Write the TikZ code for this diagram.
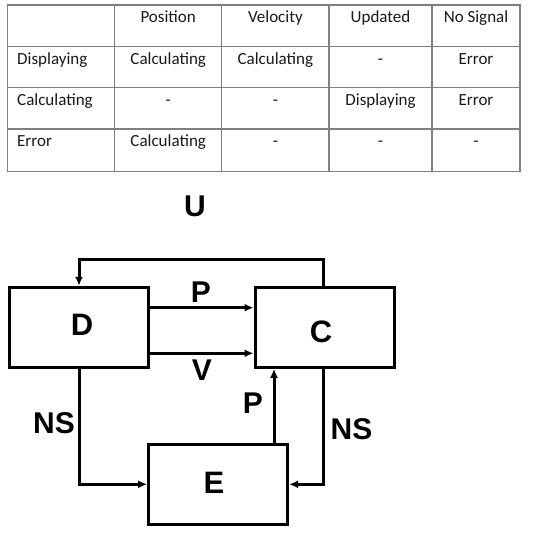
\documentclass[tikz,border=0pt]{standalone}
\usepackage{fontspec}
\setmainfont{Liberation Sans}
\newfontfamily\tabfont{Carlito}
\usetikzlibrary{arrows.meta}
\begin{document}
\begin{tikzpicture}[x=1pt,y=-1pt,
  grid/.style={draw=black!50,line width=1.2pt},
  cell/.style={font=\tabfont\fontsize{17}{19}\selectfont,text=black!90,inner sep=0pt,anchor=base},
  lcell/.style={cell,anchor=base west},
  box/.style={draw,line width=3pt,minimum width=139pt,minimum height=80pt,inner sep=0pt,font=\bfseries\fontsize{31}{34}\selectfont},
  lbl/.style={font=\bfseries\fontsize{30}{32}\selectfont,inner sep=0pt},
  conn/.style={line width=3pt,-{Latex[length=9pt,width=8pt]}}]
\useasboundingbox (0,0) rectangle (533,533);
% table
\draw[grid] (7.5,5) rectangle (520,171.7);
\foreach \y in {46.7,87.7,129} \draw[grid] (7.5,\y) -- (520,\y);
\foreach \x in {114.6,221.8,329,432} \draw[grid] (\x,5) -- (\x,171.7);
% header
\node[cell] (h1) at (168.2,22.7) {Position};
\node[cell] (h2) at (275.4,22.7) {Velocity};
\node[cell] (h3) at (380.5,22.7) {Updated};
\node[cell] (h4) at (476,22.7) {No Signal};
% row 1
\node[lcell] (r1) at (17,64.4) {Displaying};
\node[cell] (r1a) at (168.2,64.4) {Calculating};
\node[cell] (r1b) at (275.4,64.4) {Calculating};
\node[cell] (r1c) at (380.5,64.4) {-};
\node[cell] (r1d) at (476,64.4) {Error};
% row 2
\node[lcell] (r2) at (17,105.4) {Calculating};
\node[cell] (r2a) at (168.2,105.4) {-};
\node[cell] (r2b) at (275.4,105.4) {-};
\node[cell] (r2c) at (380.5,105.4) {Displaying};
\node[cell] (r2d) at (476,105.4) {Error};
% row 3
\node[lcell] (r3) at (17,146.7) {Error};
\node[cell] (r3a) at (168.2,146.7) {Calculating};
\node[cell] (r3b) at (275.4,146.7) {-};
\node[cell] (r3c) at (380.5,146.7) {-};
\node[cell] (r3d) at (476,146.7) {-};
% diagram
\node[lbl] (U) at (195,206) {U};
\node[box] (D) at (79.3,327.3) {};
\node[lbl,font=\bfseries\fontsize{31}{34}\selectfont] (Dl) at (82,325) {D};
\node[box] (C) at (324.5,327.3) {};
\node[lbl,font=\bfseries\fontsize{31}{34}\selectfont] (Cl) at (321,331.7) {C};
\node[box] (E) at (218.1,484.7) {};
\node[lbl,font=\bfseries\fontsize{31}{34}\selectfont] (El) at (214,482.7) {E};
\coordinate (t1) at (323.5,259.3);
\coordinate (t2) at (79,259.3);
\draw[conn] (C.north -| t1) -- (t1) -- (t2) -- (D.north -| t2);
\draw[conn] (D.east |- 0,307.7) -- (C.west |- 0,307.7);
\draw[conn] (D.east |- 0,353.3) -- (C.west |- 0,353.3);
\coordinate (n1) at (79,484.3);
\coordinate (n2) at (323.5,484.3);
\draw[conn] (D.south -| n1) -- (n1) -- (E.west |- n1);
\draw[conn] (C.south -| n2) -- (n2) -- (E.east |- n2);
\coordinate (pe) at (274,0);
\draw[conn] (E.north -| pe) -- (C.south -| pe);
\node[lbl] (P1) at (201,291.7) {P};
\node[lbl] (V) at (202,370) {V};
\node[lbl] (P2) at (253,402.7) {P};
\node[lbl] (NS1) at (54,423) {NS};
\node[lbl] (NS2) at (351.5,429) {NS};
\end{tikzpicture}
\end{document}
